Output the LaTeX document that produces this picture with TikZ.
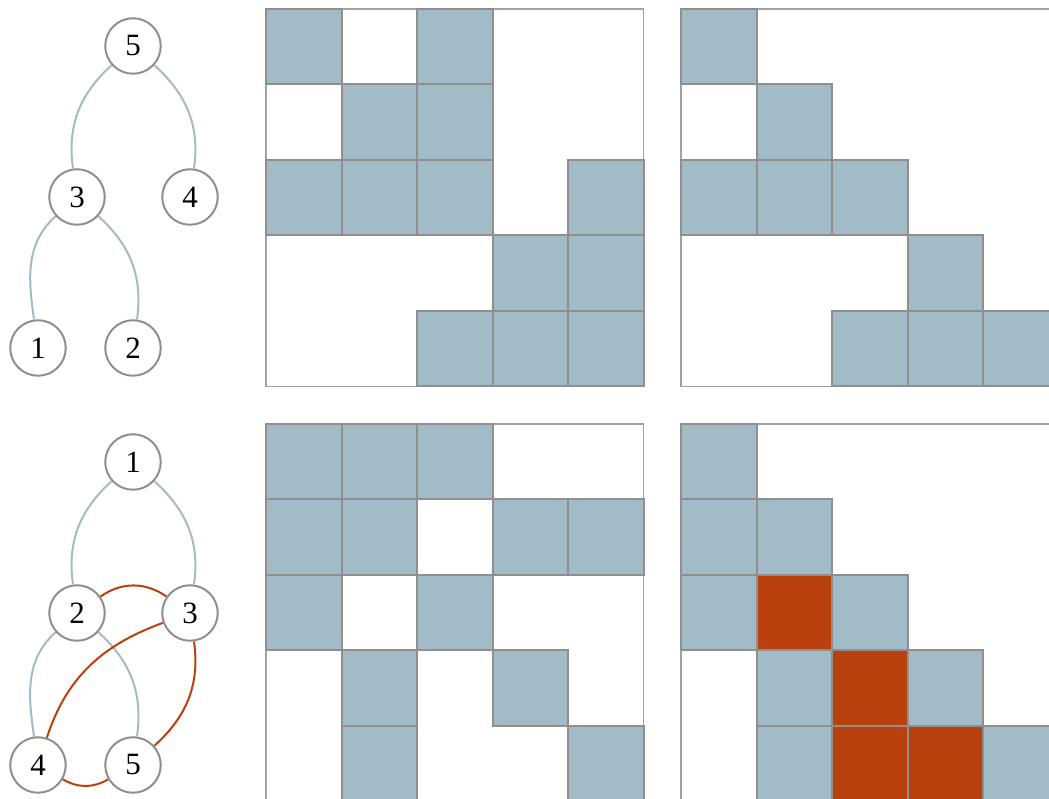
\documentclass[tikz,border=0pt]{standalone}
\usepackage{fontspec}
\setmainfont{Liberation Serif}
\definecolor{cblue}{HTML}{A2BCC7}
\definecolor{corange}{HTML}{B8410E}
\definecolor{cgray}{HTML}{928E8D}
\definecolor{fgray}{HTML}{A5A1A0}
\newcommand\mcell[5]{\path[#5] ({#1+#4*75.5},{799-#2-(#3+1)*75.5}) rectangle ++(75.5,75.5);}
\newcommand\mframe[2]{\path[frame] ({#1},{799-#2}) rectangle ++(377.5,-377.5);}
\begin{document}
\begin{tikzpicture}[x=1pt,y=1pt,
 vert/.style={circle, draw=cgray, line width=2pt, minimum size=55.5pt, inner sep=0pt, fill=white, font=\fontsize{31}{33}\selectfont},
 tedge/.style={draw=cblue, line width=2pt},
 oedge/.style={draw=corange, line width=2pt},
 cb/.style={fill=cblue, draw=cgray, line width=2pt},
 co/.style={fill=corange, draw=cgray, line width=2pt},
 frame/.style={draw=fgray, line width=1.8pt, fill=white}]
\useasboundingbox (0,0) rectangle (1049,799);
\clip (0,0) rectangle (1049,799);
% top tree
\node[vert] (t5) at (133,753) {5};
\node[vert] (t3) at (77,602) {3};
\node[vert] (t4) at (190,602) {4};
\node[vert] (t1) at (38,451) {1};
\node[vert] (t2) at (133,451) {2};
\draw[tedge] (t5) to[out=-138,in=98] (t3);
\draw[tedge] (t5) to[out=-42,in=82] (t4);
\draw[tedge] (t3) to[out=-138,in=98] (t1);
\draw[tedge] (t3) to[out=-42,in=82] (t2);
% bottom tree
\node[vert] (b1) at (133,337) {1};
\node[vert] (b2) at (77,186) {2};
\node[vert] (b3) at (190,186) {3};
\node[vert] (b4) at (38,34) {4};
\node[vert] (b5) at (133,34) {5};
\draw[tedge] (b1) to[out=-138,in=98] (b2);
\draw[tedge] (b1) to[out=-42,in=82] (b3);
\draw[tedge] (b2) to[out=-138,in=98] (b4);
\draw[tedge] (b2) to[out=-42,in=82] (b5);
\draw[oedge] (b2) to[out=35,in=145] (b3);
\draw[oedge] (b3) to[out=-160,in=72] (b4);
\draw[oedge] (b3) to[out=-82,in=42] (b5);
\draw[oedge] (b4) to[out=-30,in=-150] (b5);
% matrix 1
\mframe{266}{9}
\mcell{266}{9}{0}{0}{cb}\mcell{266}{9}{0}{2}{cb}
\mcell{266}{9}{1}{1}{cb}\mcell{266}{9}{1}{2}{cb}
\mcell{266}{9}{2}{0}{cb}\mcell{266}{9}{2}{1}{cb}\mcell{266}{9}{2}{2}{cb}\mcell{266}{9}{2}{4}{cb}
\mcell{266}{9}{3}{3}{cb}\mcell{266}{9}{3}{4}{cb}
\mcell{266}{9}{4}{2}{cb}\mcell{266}{9}{4}{3}{cb}\mcell{266}{9}{4}{4}{cb}
% matrix 2
\mframe{681}{9}
\mcell{681}{9}{0}{0}{cb}
\mcell{681}{9}{1}{1}{cb}
\mcell{681}{9}{2}{0}{cb}\mcell{681}{9}{2}{1}{cb}\mcell{681}{9}{2}{2}{cb}
\mcell{681}{9}{3}{3}{cb}
\mcell{681}{9}{4}{2}{cb}\mcell{681}{9}{4}{3}{cb}\mcell{681}{9}{4}{4}{cb}
% matrix 3
\mframe{266}{424}
\mcell{266}{424}{0}{0}{cb}\mcell{266}{424}{0}{1}{cb}\mcell{266}{424}{0}{2}{cb}
\mcell{266}{424}{1}{0}{cb}\mcell{266}{424}{1}{1}{cb}\mcell{266}{424}{1}{3}{cb}\mcell{266}{424}{1}{4}{cb}
\mcell{266}{424}{2}{0}{cb}\mcell{266}{424}{2}{2}{cb}
\mcell{266}{424}{3}{1}{cb}\mcell{266}{424}{3}{3}{cb}
\mcell{266}{424}{4}{1}{cb}\mcell{266}{424}{4}{4}{cb}
% matrix 4
\mframe{681}{424}
\mcell{681}{424}{0}{0}{cb}
\mcell{681}{424}{1}{0}{cb}\mcell{681}{424}{1}{1}{cb}
\mcell{681}{424}{2}{0}{cb}\mcell{681}{424}{2}{1}{co}\mcell{681}{424}{2}{2}{cb}
\mcell{681}{424}{3}{1}{cb}\mcell{681}{424}{3}{2}{co}\mcell{681}{424}{3}{3}{cb}
\mcell{681}{424}{4}{1}{cb}\mcell{681}{424}{4}{2}{co}\mcell{681}{424}{4}{3}{co}\mcell{681}{424}{4}{4}{cb}
\end{tikzpicture}
\end{document}
